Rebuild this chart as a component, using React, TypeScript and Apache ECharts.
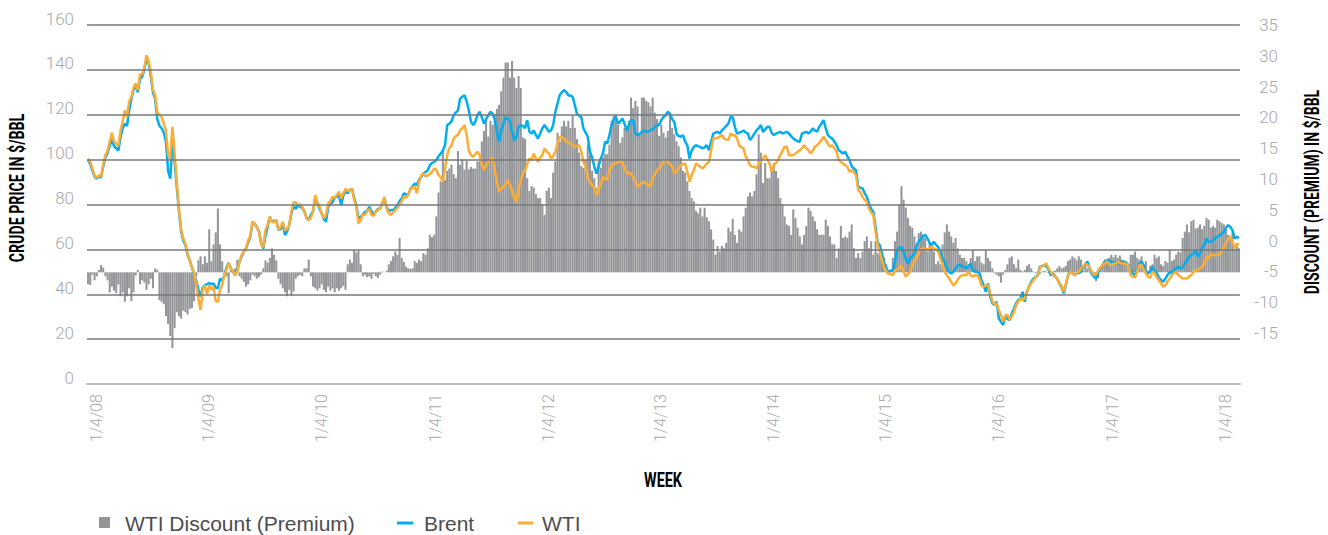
import React, { useEffect, useRef } from "react";
import * as echarts from "echarts";

// Weekly Brent price ($/bbl), from week of 1/4/08
const brent: number[] = [
  100, 98, 95, 92.5, 91.5, 92.5, 92, 97, 101, 103,
  106, 109, 106, 105, 104, 110, 114, 116, 115, 122,
  127, 131, 133, 130, 136, 137, 140, 145, 143, 137,
  130, 127, 118, 115, 114, 112, 108, 95, 91.5, 108,
  99, 88, 77, 68, 64, 62, 57.5, 55, 52, 49,
  46, 42, 39, 43, 44, 44.5, 45, 44.5,
  44.8, 43, 42.6, 47, 46, 48.5, 52, 54, 51.5, 50,
  48.5, 51, 54.5, 57, 59, 60.4, 63, 65.6, 72, 71.5,
  70, 68, 63, 60.4, 66, 70, 74.5, 72.3, 72.5, 73,
  68.6, 69, 71.5, 66.4, 68, 70.8, 76, 79.5, 78, 79.7,
  79, 78.5, 77, 74, 73, 75.5, 77, 83, 80.5, 78,
  76, 73.5, 72.3, 79, 80, 81, 83, 83.5, 84,
  79.7, 84, 86, 85, 86.4, 87, 83, 79.7, 73.8, 74.5,
  75.3, 76.8, 77, 79, 77, 75.3, 76.8, 78, 78.2, 80.5,
  82.5, 79, 77, 77.5, 77.5, 78.5, 79.7, 81.5, 82.7, 85,
  84.5, 84.2, 87, 88, 89.4, 88.6, 91, 92.3, 93.8, 94.5,
  95.3, 97.5, 98.5, 99, 99.8, 101.5, 102.7, 104, 106.4, 115.4,
  116, 117, 119.8, 121, 122, 127.2, 128, 128.7, 126,
  122, 117, 115.4, 117, 119.8, 121.3, 119, 116, 118, 119.8,
  121.3, 120.5, 118, 112.4, 108, 113, 116, 119, 118, 117.6,
  112.4, 108.5, 110, 114.6, 115.4, 115, 114, 117.6, 112.5, 111.6,
  113, 111, 109.4, 111.6, 114, 115.4, 114, 112.4, 113, 115.4,
  121.3, 125, 128.7, 130, 131, 130.2, 128.7, 128.5, 128, 124.3,
  120.5, 119.5, 119, 113.9, 112, 110.2, 103.5, 101, 97,
  93.8, 97, 100.5, 102.7, 108, 107.2, 111, 115.4, 118, 119,
  116, 117, 118.3, 116, 113, 115.5, 117.6, 117.6, 111.6, 110.9,
  111.5, 112.4, 113, 112.5, 112.4, 113, 113.5, 114.6, 115, 115.6,
  117.6, 119, 119.8, 121.3, 120.5, 118, 116.8, 111.6, 110.5, 110.2,
  110.9, 108, 106.4, 100.5, 104, 105.7, 106.4, 106, 105.7, 105,
  105.5, 106.4, 104.2, 108, 111.6, 112, 112.4, 111.6, 113,
  113.9, 115, 116, 119, 119, 114.6, 111.6, 112, 112.4, 113,
  112, 111.6, 108.7, 110, 111.6, 113, 114, 115.4, 112.4, 113.5,
  114.6, 114.6, 112, 110.9, 111.6, 112, 112.4, 111.6, 112, 112.4,
  111.6, 110.5, 109.4, 108.7, 108.2, 108, 111.6, 112, 112.4, 111.6,
  112.5, 113.9, 113, 112.4, 114.6, 116, 117.6, 113.9, 110.9, 110,
  109.4, 108, 106.4, 104.2, 103.5, 102.7, 103.5, 101.5, 99.8, 97,
  96, 95.3, 88, 87.5, 87.2, 85, 83.4, 80.5, 78, 76.8,
  70.1, 63, 61.8, 58.2, 54, 51.5, 50, 50.5, 50.7, 54.5,
  59.6, 60.5, 61, 58.9, 55.5, 53.7, 56, 57, 58.2, 61.9,
  63.5, 64.9, 66, 66.4, 64.9, 63, 61.9, 63.4, 62, 61,
  58.9, 56, 54.5, 51.5, 50, 49.2, 50, 51.5, 53, 53,
  52.5, 52.2, 51.5, 52.5, 53.7, 50.7, 50, 50, 49.5,
  46.3, 44, 41.1, 44.8, 38.9, 36, 35.2, 36.7, 29.2, 27.7,
  26.3, 30, 29, 28.5, 31.5, 33.7, 36, 37.4, 38.1, 41.1,
  36.7, 41.1, 43.5, 45.6, 47, 47.5, 48.5, 52.2, 52.5, 53,
  52.5, 51, 48.5, 49.3, 48, 47, 45, 43.3, 40.4, 44.1,
  48.5, 50, 49.5, 48.5, 49.3, 49.5, 50, 52.2, 53.5, 54.5,
  51.5, 49, 47.8, 47, 50, 51.5, 53, 54.5, 55.2,
  54.8, 54.5, 54, 54.5, 53.7, 54, 54.5, 54.5, 54, 53,
  50.5, 49.3, 48.5, 50.7, 53.7, 54.5, 53, 50, 49.3, 50,
  52.2, 50.7, 49.5, 47.5, 46.3, 45.6, 47, 48.5, 50, 49.3,
  51, 51.5, 52.2, 51.5, 52, 53.7, 55.2, 56.7, 57.5, 58.2,
  59.7, 56.7, 58.2, 60.4, 61.9, 64.9, 63.4, 63.4, 64, 64.9,
  65.6, 66, 67.1, 67.8, 69.6, 70.8, 70.1, 68.6, 64.9, 65.6,
  65,
];

// Weekly WTI price ($/bbl)
const wti: number[] = [
  100.5, 99, 96, 93, 92, 93, 92.5, 98, 102, 104,
  108, 112, 108, 107, 106, 113, 117, 122, 119, 126,
  128, 132, 134, 131, 138, 138, 141, 146.5, 144, 139,
  131, 128.7, 121, 120, 119, 116, 113, 102, 100.5, 114.6,
  103, 90, 78, 69, 65, 62.5, 58, 55, 52, 49.5,
  44, 38, 33, 42, 44, 40, 44, 42,
  43.3, 37, 36.6, 42, 44, 48.5, 51, 54, 51.5, 50,
  48.5, 50.5, 54.5, 57.5, 59, 60.4, 64, 66, 72.3, 71.5,
  70, 68, 62, 61, 68.6, 71, 74.5, 72.3, 72, 73,
  68.6, 70, 72.3, 68.6, 69, 70.8, 77, 81, 81, 79.7,
  80, 79, 77, 73.8, 73, 74, 76.8, 84.2, 81, 79,
  76, 74, 75.3, 80.5, 81.5, 83.4, 83, 84.2, 85.7,
  82.7, 85, 87, 86, 86.4, 87, 82, 79, 71.5, 73,
  75.3, 75.5, 76.8, 78, 75.3, 75, 76.8, 77.5, 78.2, 80.5,
  83.4, 78.2, 76, 75.3, 76.5, 77.5, 78.5, 80, 81.5, 83.5,
  83, 84.2, 87, 87.5, 88, 85, 90, 93, 93.8, 92.5,
  93, 93.5, 94.5, 96, 95.5, 93, 92.3, 90, 96, 102,
  105, 106.4, 109.4, 110.5, 111, 113, 114, 115.4, 111,
  104, 102, 101.3, 102.5, 103.5, 102, 98, 95.3, 98, 99,
  100.5, 100.5, 95.3, 90, 85.7, 87, 88, 88.6, 90.9, 89,
  85.7, 83, 81, 87, 91, 93.8, 95.3, 98, 100.5, 99.8,
  102.7, 100.5, 99, 101, 102, 105, 103.5, 102.7, 100.5, 101.5,
  103.5, 107, 110.2, 110, 109.4, 108, 107.5, 107.2, 106.5, 105.7,
  106, 106.4, 103.5, 99, 96.8, 91.6, 90, 88.6, 87.5,
  84, 87, 89, 92.3, 91.5, 90.9, 95.3, 97, 98.3, 98.3,
  99, 99.8, 98.3, 96, 93.8, 94, 93.8, 92.3, 90, 87.9,
  88.6, 89.5, 90.1, 89.4, 88.5, 87.9, 91.6, 93.5, 95.3, 96,
  97.5, 99, 99.8, 99, 98, 96.8, 93.8, 95, 96, 97.5,
  98, 98.3, 94.6, 90.1, 93, 95.3, 98.3, 97.5, 96.8, 96,
  97, 98.3, 99, 104, 109.4, 109.4, 109.8, 110.2, 111,
  109.4, 109, 108.7, 111.6, 110.9, 110.9, 109.4, 106.4, 105.5, 105,
  101.3, 99.8, 97.5, 96.8, 96.8, 96, 98.3, 99.5, 100.5, 102,
  100, 98.3, 94.6, 97.5, 98.5, 99.8, 102, 104, 105.7, 105.7,
  102, 102, 102, 102.7, 103.5, 104.2, 105, 106.4, 105, 104.2,
  102.7, 104, 105.7, 106.4, 107.5, 108.7, 110.2, 108.7, 107, 105.7,
  106.4, 105, 103.5, 99.8, 99, 98.3, 97.5, 96.8, 94.6, 95.3,
  94.5, 93, 86.5, 85.5, 83.4, 82, 81.2, 78.2, 76.5, 75.3,
  67.8, 62, 58.9, 55.2, 52, 50, 49.3, 49, 48.5, 50.7,
  51, 51.5, 53, 50, 47.8, 49, 50, 53, 55, 56,
  58.9, 60, 60.4, 59.7, 60, 60.4, 61.2, 60.4, 60, 58.9,
  56, 53, 50, 48.5, 47, 45.5, 44, 44.8, 46.5, 47.8,
  48.5, 48.5, 48.5, 50, 48.5, 47.8, 48.5, 48.5, 47,
  43.8, 43.3, 44, 44, 40.4, 37, 35.2, 36, 33, 30.7,
  27.7, 30.7, 30.7, 28.5, 30, 32.2, 35, 36.7, 38.1, 37.5,
  38, 41.1, 43.5, 44.8, 46.3, 47.5, 48.5, 51.5, 52.5, 53,
  53.7, 51.5, 50, 48.5, 48, 47, 44.5, 44, 41.1, 44.8,
  48, 50, 49.3, 48.5, 49.5, 50, 51.5, 52.5, 53.7, 53,
  52, 50, 48.5, 49, 50.7, 52, 53, 53.7, 54.5,
  53.5, 53, 53.5, 53.7, 54.5, 54, 53.7, 53.7, 53.5, 52.5,
  48.5, 47.8, 47.5, 50, 53, 53, 51, 49.3, 47.8, 47.3,
  50, 49.5, 47.5, 46.3, 44.8, 43.3, 44, 45.6, 47, 48.5,
  49.5, 50, 48.5, 47.8, 47, 47, 47, 48, 48.5, 50,
  50.7, 50.7, 51.5, 52.2, 53.7, 56.7, 56, 58.2, 57.4, 57.5,
  57.4, 58, 58.9, 60.4, 62.6, 64.9, 65.6, 63.4, 60.4, 62.6,
  62,
];

// Weekly WTI discount (premium) to Brent ($/bbl)
const discount: number[] = [
  -1.5, -1.6, -0.3, -1.0, -0.5, 0.3, 0.9, 0.6, -0.5, -1.0,
  -2.5, -1.8, -2.3, -2.6, -1.5, -3.0, -2.5, -3.7, -3.0, -2.0,
  -3.6, -2.5, -0.4, 0.3, -1.5, -1.0, -1.3, -2.2, -1.5, -0.8,
  -2.0, 0.5, 0.3, -3.5, -3.7, -4.0, -5.5, -6.5, -8.0, -9.5,
  -7.0, -5.0, -5.5, -5.8, -4.8, -5.0, -5.3, -4.6, -4.5, -3.6,
  -0.5, 1.5, 2.0, 1.0, 2.0, 1.2, 5.4, 1.4,
  3.5, 5.0, 8.0, 3.5, 1.4, 0.2, -0.5, -2.6, 0.5, 0.3,
  0.5, 1.6, -0.5, -0.8, -1.2, -1.8, -1.5, -1.0, -0.3, -0.5,
  -0.8, -0.6, -0.3, 0.5, 1.5, 1.2, 1.8, 3.0, 2.2, 1.5,
  -0.8, -1.5, -2.0, -2.5, -3.0, -2.2, -3.0, -2.4, -0.8, -0.5,
  -0.3, -0.5, 0.5, 0.5, 1.6, -0.5, -1.8, -2.0, -2.3, -2.0,
  -1.5, -2.2, -2.5, -1.8, -2.3, -2.0, -2.5, -2.0, -2.3,
  -2.0, -1.7, -2.2, 1.0, 1.6, 1.2, 2.8, 2.5, 2.8, 1.0,
  -0.5, -0.3, -0.6, -0.5, -0.8, -0.2, -0.5, -0.7, -0.3, 0.1,
  0.0, 0.2, 1.0, 1.4, 2.0, 2.6, 2.2, 4.3, 1.8, 1.3,
  0.7, 0.5, 0.4, 0.5, 1.4, 1.2, 1.6, 1.4, 2.4, 2.2,
  3.0, 4.7, 4.4, 4.7, 7.0, 10.0, 11.4, 15.4, 11.6, 12.7,
  13.0, 13.5, 12.3, 11.8, 15.2, 13.5, 14.1, 12.9, 14.0,
  12.9, 13.2, 13.0, 13.0, 13.9, 13.9, 16.4, 17.7, 19.0, 17.0,
  19.0, 18.5, 19.8, 20.5, 21.0, 22.7, 24.4, 26.3, 26.3, 24.4,
  26.5, 24.4, 23.1, 24.6, 23.1, 16.9, 16.7, 11.8, 10.2, 10.8,
  10.6, 9.8, 9.3, 9.3, 8.5, 7.2, 10.2, 10.6, 9.3, 12.5,
  13.9, 17.5, 16.4, 18.3, 19.0, 18.3, 19.0, 18.1, 19.6, 18.1,
  16.7, 15.0, 13.3, 13.1, 14.1, 16.0, 14.8, 12.7, 11.8,
  10.6, 13.9, 13.1, 14.4, 14.8, 14.8, 16.0, 19.0, 19.6, 19.8,
  18.5, 16.2, 16.9, 18.1, 18.3, 19.0, 21.9, 20.6, 21.5, 20.8,
  17.3, 21.9, 21.9, 21.5, 21.3, 20.8, 21.9, 20.0, 19.2, 17.1,
  18.5, 17.5, 16.9, 17.7, 19.6, 18.1, 17.3, 16.4, 15.8, 14.4,
  12.7, 12.5, 11.4, 10.2, 9.3, 8.9, 7.7, 7.4, 8.1, 7.0,
  8.1, 6.9, 6.4, 5.4, 4.1, 2.2, 3.3, 2.6, 3.3,
  3.0, 3.7, 5.6, 5.1, 6.7, 4.7, 3.7, 5.4, 5.1, 7.0,
  8.1, 9.5, 10.0, 9.5, 10.2, 12.3, 17.3, 15.0, 11.2, 13.7,
  11.8, 11.8, 12.9, 13.7, 12.7, 11.8, 9.3, 8.5, 7.0, 6.0,
  5.8, 4.7, 7.9, 6.8, 5.6, 4.5, 3.5, 4.7, 5.8, 8.1,
  7.7, 7.0, 6.4, 5.4, 4.7, 4.7, 4.7, 6.6, 5.8, 4.5,
  3.5, 3.5, 1.8, 3.0, 5.8, 4.3, 4.5, 4.3, 5.1, 6.0,
  3.0, 1.8, 2.4, 1.8, 2.6, 3.9, 4.5, 3.0, 3.9, 2.2,
  3.9, 2.4, 3.0, 2.2, 1.8, 1.0, -0.3, 0.2, 1.8, 3.9,
  5.1, 8.5, 10.8, 9.1, 8.1, 6.8, 5.8, 5.6, 4.5, 3.3,
  4.9, 5.1, 4.7, 4.3, 2.6, 3.7, 3.3, 2.6, 1.0, 1.4,
  1.0, 3.5, 5.0, 6.0, 5.1, 4.5, 3.7, 4.3, 3.0, 2.2,
  1.8, 1.8, 1.4, 1.0, 1.8, 2.8, 1.4, 2.0, 2.0,
  1.2, 1.0, 2.8, 1.8, 1.4, 0.5, -0.1, -0.3, -0.5, -1.3,
  -0.3, 0.3, 1.0, 1.8, 2.0, 1.0, 0.5, 1.6, 0.3, 0.1,
  0.3, 0.8, 1.0, 0.5, 0.1, -0.1, 0.1, -0.2, 0.1, 0.2,
  0.1, -0.1, -0.2, 0.1, 0.2, 0.5, 0.8, 0.5, 0.6, 0.8,
  1.4, 1.6, 2.0, 1.8, 1.5, 2.0, 1.6, 0.2, 1.0, 0.5,
  0.1, 0.2, -0.3, -1.1, -0.7, 0.3, 1.0, 1.6, 1.5,
  1.8, 2.2, 1.9, 2.2, 1.8, 2.1, 1.6, 1.4, 1.0, 0.4,
  2.2, 2.2, 2.6, 1.8, 1.6, 2.0, 0.6, 1.4, 0.2, 0.8,
  1.0, 2.2, 1.8, 2.0, 1.0, 0.8, 1.4, 1.2, 2.8, 1.4,
  1.6, 2.2, 2.6, 2.5, 4.3, 5.1, 6.0, 5.0, 6.4, 6.6,
  5.5, 5.6, 6.0, 5.4, 5.8, 6.8, 6.6, 5.6, 5.8, 5.6,
  6.6, 6.4, 6.2, 6.0, 5.4, 4.7, 4.3, 5.0, 2.8, 3.5,
  3.0,
];

const firstWeek = "2008-01-04";
const yearTickLabels: string[] = ["1/4/08", "1/4/09", "1/4/10", "1/4/11", "1/4/12", "1/4/13", "1/4/14", "1/4/15", "1/4/16", "1/4/17", "1/4/18"];
const leftTicks: number[] = [0, 20, 40, 60, 80, 100, 120, 140, 160];
const rightTicks: number[] = [-15, -10, -5, 0, 5, 10, 15, 20, 25, 30, 35];

const DAY = 86400000;
const startMs = Date.parse(firstWeek + "T00:00:00Z");
const categories: string[] = brent.map((_, i) => {
  const d = new Date(startMs + i * 7 * DAY);
  return `${d.getUTCMonth() + 1}/${d.getUTCDate()}/${String(d.getUTCFullYear()).slice(2)}`;
});
// category index of each "1/4/yy" label
const labelIndex: Record<number, string> = {};
yearTickLabels.forEach((lab) => {
  const yy = 2000 + Number(lab.split("/")[2]);
  const ms = Date.UTC(yy, 0, 4);
  labelIndex[Math.round((ms - startMs) / (7 * DAY))] = lab;
});

const TICK_FONT = "Roboto, 'Liberation Sans', sans-serif";
const TITLE_FONT = "Roboto, 'Liberation Sans', sans-serif";
const REGULAR = "'Liberation Sans', Arial, 'Noto Sans', sans-serif";
const LABEL_GRAY = "#a7a9ac";
const BLUE = "#00aeef";
const ORANGE = "#fbad36";
const BAR_GRAY = "#939598";

export default function App() {
  const ref = useRef<HTMLDivElement>(null);
  useEffect(() => {
    if (!ref.current) return;
    const chart = echarts.init(ref.current, undefined, { renderer: "svg" });
    const titleStyle = { fontSize: 20, fontWeight: "bold", fontFamily: TITLE_FONT, fill: "#000", align: "center", verticalAlign: "middle" };
    chart.setOption({
      animation: false,
      backgroundColor: "#ffffff",
      grid: { left: 87, right: 88, top: 25, bottom: 151, containLabel: false },
      xAxis: {
        type: "category",
        data: categories,
        boundaryGap: true,
        axisLine: { show: true, lineStyle: { color: "#bcbec0", width: 2 } },
        axisTick: { show: false },
        splitLine: { show: false },
        axisLabel: {
          interval: (idx: number) => labelIndex[idx] !== undefined,
          formatter: (_v: string, idx: number) => labelIndex[idx] ?? "",
          rotate: 90,
          verticalAlign: "top",
          margin: 10,
          color: LABEL_GRAY,
          fontSize: 16,
          fontWeight: 300,
          fontFamily: TICK_FONT,
        },
      },
      yAxis: [
        {
          type: "value",
          position: "left",
          min: leftTicks[0],
          max: leftTicks[leftTicks.length - 1],
          interval: 20,
          axisLine: { show: false },
          axisTick: { show: false },
          splitLine: { show: false },
          axisLabel: {
            color: LABEL_GRAY,
            fontSize: 17,
            fontWeight: 300,
            fontFamily: TICK_FONT,
            margin: 13,
            verticalAlign: "bottom",
            lineHeight: 13,
          },
        },
        {
          type: "value",
          position: "right",
          min: -23.3,
          max: 35,
          axisLine: { show: false },
          axisTick: { show: false },
          splitLine: { show: false },
          axisLabel: {
            customValues: rightTicks,
            color: LABEL_GRAY,
            fontSize: 17,
            fontWeight: 300,
            fontFamily: TICK_FONT,
            align: "right",
            margin: 38,
          },
        },
        { type: "value", position: "right", show: false, min: -14, max: 31 },
      ],
      series: [
        {
          name: "WTI Discount (Premium)",
          type: "bar",
          yAxisIndex: 2,
          data: discount,
          barCategoryGap: "6%",
          itemStyle: { color: BAR_GRAY },
          z: 1,
          silent: true,
        },
        {
          name: "grid",
          type: "line",
          yAxisIndex: 0,
          data: [],
          z: 2,
          silent: true,
          markLine: {
            silent: true,
            symbol: ["none", "none"],
            label: { show: false },
            lineStyle: { color: "#77787b", width: 1.5, type: "solid" },
            data: leftTicks.slice(1).map((v) => ({ yAxis: v })),
          },
        },
        {
          name: "Brent",
          type: "line",
          yAxisIndex: 0,
          data: brent,
          showSymbol: false,
          lineStyle: { color: BLUE, width: 2.5 },
          itemStyle: { color: BLUE },
          z: 3,
        },
        {
          name: "WTI",
          type: "line",
          yAxisIndex: 0,
          data: wti,
          showSymbol: false,
          lineStyle: { color: ORANGE, width: 2.5 },
          itemStyle: { color: ORANGE },
          z: 4,
        },
      ],
      graphic: [
        {
          type: "text",
          x: 17,
          y: 188,
          rotation: Math.PI / 2,
          scaleX: 0.71,
          style: { ...titleStyle, text: "CRUDE PRICE IN $/BBL" },
        },
        {
          type: "text",
          x: 1312,
          y: 192,
          rotation: Math.PI / 2,
          scaleX: 0.7,
          style: { ...titleStyle, text: "DISCOUNT (PREMIUM) IN $/BBL" },
        },
        {
          type: "text",
          x: 663,
          y: 480,
          scaleX: 0.72,
          style: { ...titleStyle, text: "WEEK" },
        },
        { type: "rect", shape: { x: 99, y: 517, width: 11, height: 11 }, style: { fill: BAR_GRAY } },
        {
          type: "text",
          x: 125,
          y: 523,
          style: { text: "WTI Discount (Premium)", fontSize: 21, fontFamily: REGULAR, fill: "#4d4d4f", align: "left", verticalAlign: "middle" },
        },
        { type: "rect", shape: { x: 397, y: 521.5, width: 16, height: 3 }, style: { fill: BLUE } },
        {
          type: "text",
          x: 424,
          y: 523,
          style: { text: "Brent", fontSize: 21, fontFamily: REGULAR, fill: "#4d4d4f", align: "left", verticalAlign: "middle" },
        },
        { type: "rect", shape: { x: 518, y: 521.5, width: 15, height: 3 }, style: { fill: ORANGE } },
        {
          type: "text",
          x: 542,
          y: 523,
          style: { text: "WTI", fontSize: 21, fontFamily: REGULAR, fill: "#4d4d4f", align: "left", verticalAlign: "middle" },
        },
      ],
    });
    return () => chart.dispose();
  }, []);
  return <div ref={ref} style={{ position: "fixed", left: 0, top: 0, width: 1328, height: 535 }} />;
}
